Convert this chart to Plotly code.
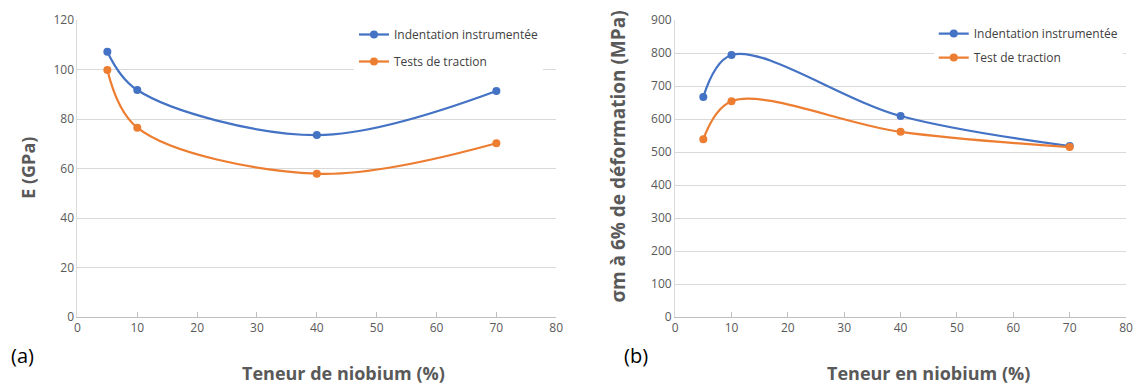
import plotly.graph_objects as go

niobium = [5, 10, 40, 70]
E_indent = [107.2, 91.7, 73.5, 91.3]
E_traction = [99.8, 76.5, 57.9, 70.2]
sig_indent = [667, 794, 609, 518]
sig_traction = [539, 654, 561, 515]

x_ticks = [0, 10, 20, 30, 40, 50, 60, 70, 80]
ya_ticks = [0, 20, 40, 60, 80, 100, 120]
yb_ticks = [0, 100, 200, 300, 400, 500, 600, 700, 800, 900]

BLUE = "#4472C4"
ORANGE = "#ED7D31"
GRID = "#D9D9D9"
TICKC = "#595959"
FONT = "Open Sans"

fig = go.Figure()

def add(x, y, name, color, xa, ya, leg, grp):
    fig.add_trace(go.Scatter(
        x=x, y=y, name=name, mode="lines+markers",
        line=dict(color=color, width=2.25, shape="spline", smoothing=1.0),
        marker=dict(color=color, size=8),
        xaxis=xa, yaxis=ya, legend=leg, legendgroup=grp))

add(niobium, E_indent, "Indentation instrumentée", BLUE, "x", "y", "legend", "a1")
add(niobium, E_traction, "Tests de traction", ORANGE, "x", "y", "legend", "a2")
add(niobium, sig_indent, "Indentation instrumentée", BLUE, "x2", "y2", "legend2", "b1")
add(niobium, sig_traction, "Test de traction", ORANGE, "x2", "y2", "legend2", "b2")

xcommon = dict(range=[0, 80], tickvals=x_ticks, showgrid=False, showline=True,
               linecolor="#BFBFBF", linewidth=1, ticks="inside", ticklen=5,
               tickcolor="#BFBFBF", zeroline=False,
               tickfont=dict(family=FONT, size=12, color=TICKC), fixedrange=True)
ycommon = dict(showgrid=True, gridcolor=GRID, gridwidth=1, showline=True,
               linecolor="#D9D9D9", linewidth=1, zeroline=False, ticks="",
               tickfont=dict(family=FONT, size=12, color=TICKC), fixedrange=True)

fig.update_layout(
    width=1136, height=379,
    margin=dict(l=0, r=0, t=12, b=70),
    paper_bgcolor="white", plot_bgcolor="white",
    font=dict(family=FONT),
    xaxis=dict(domain=[0.0590, 0.4842], anchor="y", **xcommon),
    yaxis=dict(domain=[0, 1], anchor="x", range=[0, 120], tickvals=ya_ticks, **ycommon),
    xaxis2=dict(domain=[0.5898, 0.9903], anchor="y2", **xcommon),
    yaxis2=dict(domain=[0, 1], anchor="x2", range=[0, 900], tickvals=yb_ticks, **ycommon),
    legend=dict(x=0.3046, y=1.0, xanchor="left", yanchor="top", bgcolor="white",
                font=dict(family=FONT, size=12, color="#404040"),
                tracegroupgap=8, itemwidth=30),
    legend2=dict(x=0.8195, y=1.003, xanchor="left", yanchor="top", bgcolor="white",
                 font=dict(family=FONT, size=12, color="#404040"),
                 tracegroupgap=5, itemwidth=30),
    showlegend=True,
)

ann_font = dict(family=FONT, size=18, color=TICKC)
fig.add_annotation(text="<b>Teneur de niobium (%)</b>", x=0.2949, y=-0.19, xref="paper", yref="paper",
                   showarrow=False, xanchor="center", yanchor="middle", font=ann_font)
fig.add_annotation(text="<b>Teneur en niobium (%)</b>", x=0.815, y=-0.19, xref="paper", yref="paper",
                   showarrow=False, xanchor="center", yanchor="middle", font=ann_font)
fig.add_annotation(text="<b>E (GPa)</b>", x=0.015, y=0.502, xref="paper", yref="paper",
                   showarrow=False, xanchor="center", yanchor="middle", textangle=-90, font=ann_font)
fig.add_annotation(text="<b>σm à 6% de déformation (MPa)</b>", x=0.5387, y=0.539, xref="paper", yref="paper",
                   showarrow=False, xanchor="center", yanchor="middle", textangle=-90,
                   font=dict(family=FONT, size=19, color=TICKC))
fig.add_annotation(text="(a)", x=0.0106, y=-0.128, xref="paper", yref="paper",
                   showarrow=False, xanchor="center", yanchor="middle",
                   font=dict(family=FONT, size=20, color="#000000"))
fig.add_annotation(text="(b)", x=0.555, y=-0.128, xref="paper", yref="paper",
                   showarrow=False, xanchor="center", yanchor="middle",
                   font=dict(family=FONT, size=20, color="#000000"))

fig.write_html("out.html")
